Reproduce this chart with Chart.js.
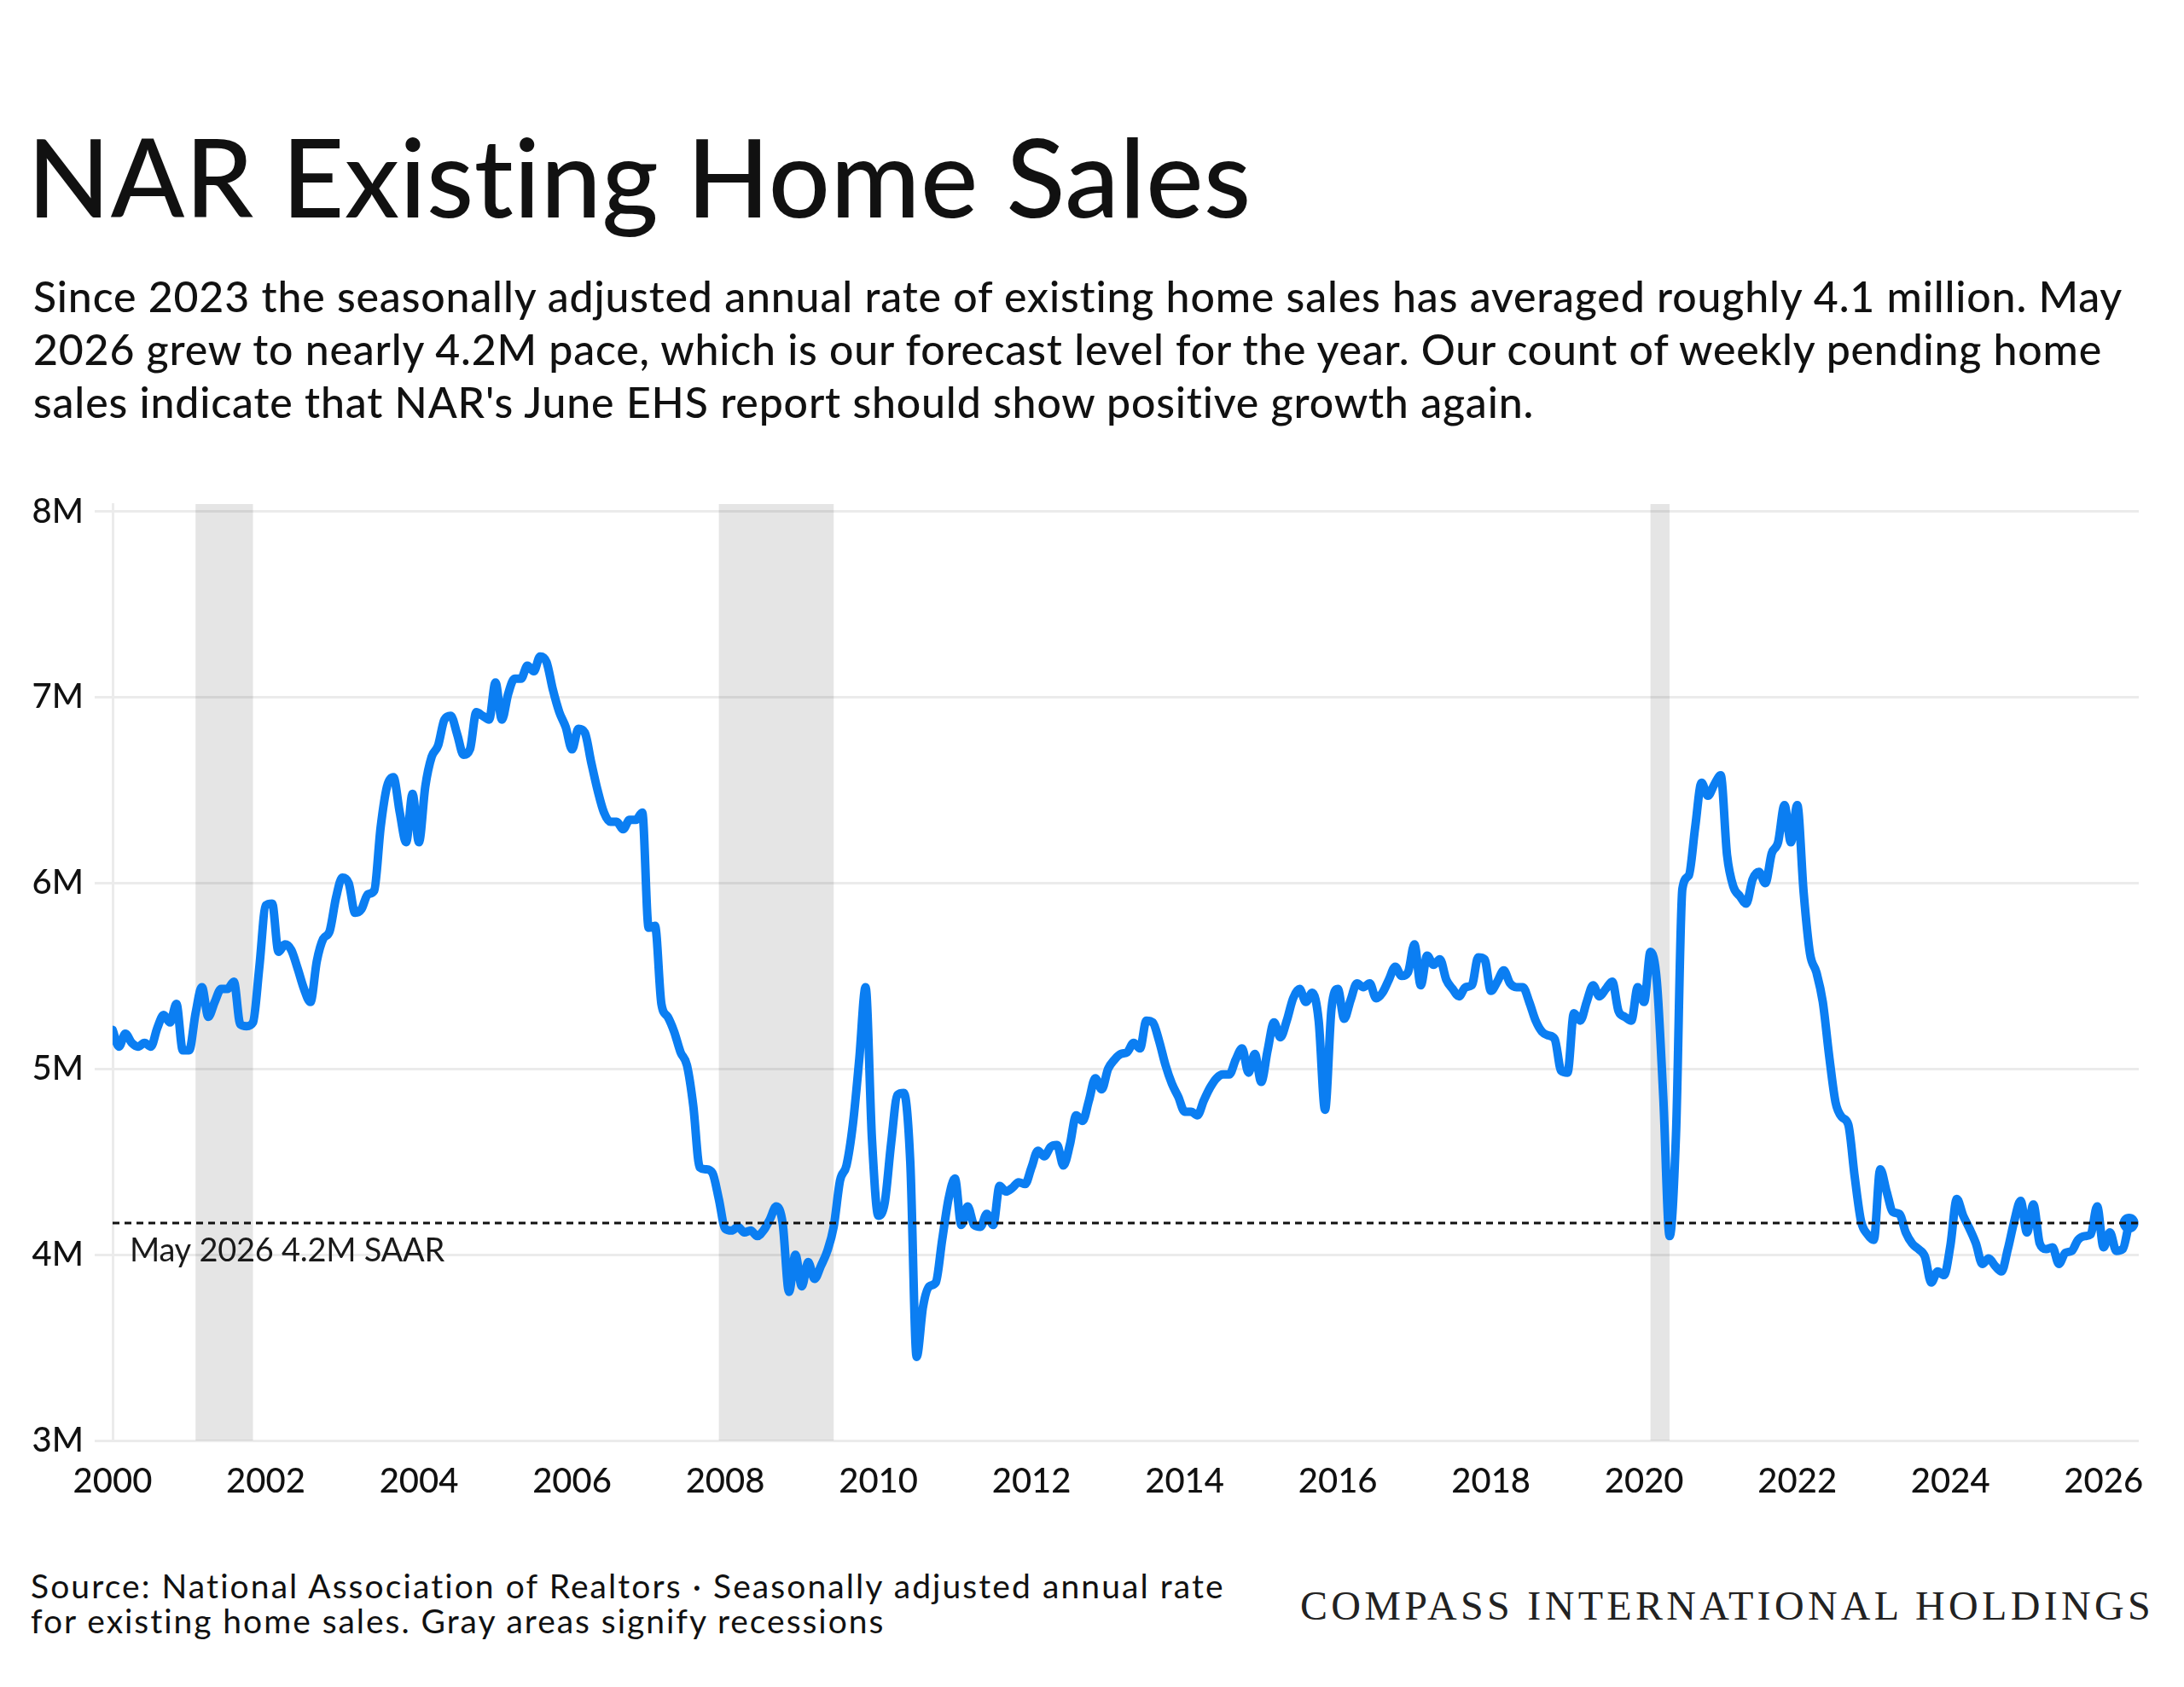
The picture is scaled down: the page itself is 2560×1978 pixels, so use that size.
<!DOCTYPE html>
<html>
<head>
<meta charset="utf-8">
<title>NAR Existing Home Sales</title>
<script src="https://cdn.jsdelivr.net/npm/chart.js@4.4.1/dist/chart.umd.min.js"></script>
<style>
  html, body { margin: 0; padding: 0; background: #fff; }
  body { width: 2560px; height: 1978px; position: relative; overflow: hidden;
         font-family: Lato, "Noto Sans", sans-serif; color: #111; }
  .txt { position: absolute; white-space: nowrap; line-height: 1; }
  #title { left: 32px; top: 143px; font-size: 127px; font-weight: 500; }
  .sub { left: 39px; font-size: 50px; font-weight: 500; }
  .foot { left: 36px; font-size: 39px; font-weight: 400; }
  #brand { left: 1524px; top: 1859px; font-size: 48px; font-family: "Liberation Serif", "DejaVu Serif", serif; color: #222; }
  #chart { position: absolute; left: 0; top: 0; }
</style>
</head>
<body>
<div id="title" class="txt" data-w="1437">NAR Existing Home Sales</div>
<div class="txt sub" style="top:322px" data-w="2450">Since 2023 the seasonally adjusted annual rate of existing home sales has averaged roughly 4.1 million. May</div>
<div class="txt sub" style="top:384px" data-w="2425">2026 grew to nearly 4.2M pace, which is our forecast level for the year. Our count of weekly pending home</div>
<div class="txt sub" style="top:446px" data-w="1760">sales indicate that NAR's June EHS report should show positive growth again.</div>
<div class="txt foot" style="top:1840px" data-w="1401">Source: National Association of Realtors · Seasonally adjusted annual rate</div>
<div class="txt foot" style="top:1881px" data-w="1002">for existing home sales. Gray areas signify recessions</div>
<div id="brand" class="txt" data-w="1001">COMPASS INTERNATIONAL HOLDINGS</div>
<canvas id="chart" width="2560" height="1978"></canvas>
<script>
// monthly SAAR, millions, Jan 2000 .. May 2026
const startYear = 2000;
const sales = [
  5.21, 5.12, 5.19, 5.14, 5.12, 5.14, 5.12, 5.22, 5.29, 5.25, 5.35, 5.10, // 2000
  5.10, 5.30, 5.44, 5.28, 5.36, 5.43, 5.43, 5.47, 5.24, 5.23, 5.25, 5.55, // 2001
  5.88, 5.89, 5.63, 5.67, 5.64, 5.54, 5.43, 5.36, 5.58, 5.70, 5.74, 5.92, // 2002
  6.03, 6.00, 5.84, 5.86, 5.94, 5.96, 6.30, 6.52, 6.57, 6.38, 6.22, 6.48, // 2003
  6.22, 6.52, 6.68, 6.74, 6.88, 6.90, 6.80, 6.69, 6.72, 6.92, 6.90, 6.88, // 2004
  7.08, 6.88, 7.02, 7.10, 7.10, 7.17, 7.14, 7.22, 7.19, 7.04, 6.92, 6.84, // 2005
  6.72, 6.83, 6.81, 6.65, 6.50, 6.38, 6.33, 6.33, 6.29, 6.34, 6.34, 6.38, // 2006
  5.76, 5.77, 5.35, 5.28, 5.20, 5.09, 5.02, 4.80, 4.47, 4.46, 4.44, 4.30, // 2007
  4.14, 4.13, 4.15, 4.12, 4.13, 4.10, 4.13, 4.19, 4.26, 4.17, 3.80, 4.00, // 2008
  3.83, 3.96, 3.87, 3.94, 4.02, 4.15, 4.40, 4.48, 4.70, 5.05, 5.44, 4.62, // 2009
  4.21, 4.28, 4.60, 4.86, 4.87, 4.50, 3.45, 3.72, 3.83, 3.85, 4.08, 4.30, // 2010
  4.41, 4.16, 4.26, 4.16, 4.15, 4.22, 4.16, 4.37, 4.34, 4.36, 4.39, 4.38, // 2011
  4.47, 4.56, 4.53, 4.58, 4.59, 4.48, 4.59, 4.75, 4.72, 4.83, 4.95, 4.89, // 2012
  5.00, 5.05, 5.08, 5.09, 5.14, 5.11, 5.26, 5.25, 5.15, 5.02, 4.92, 4.85, // 2013
  4.77, 4.77, 4.75, 4.83, 4.90, 4.95, 4.97, 4.97, 5.05, 5.11, 4.98, 5.08, // 2014
  4.93, 5.10, 5.25, 5.17, 5.26, 5.38, 5.43, 5.36, 5.41, 5.26, 4.78, 5.32, // 2015
  5.43, 5.27, 5.37, 5.46, 5.44, 5.46, 5.38, 5.41, 5.48, 5.55, 5.50, 5.52, // 2016
  5.67, 5.45, 5.61, 5.56, 5.59, 5.48, 5.43, 5.39, 5.44, 5.45, 5.60, 5.59, // 2017
  5.42, 5.47, 5.53, 5.46, 5.44, 5.44, 5.36, 5.26, 5.20, 5.18, 5.16, 4.99, // 2018
  4.98, 5.30, 5.26, 5.36, 5.45, 5.39, 5.43, 5.47, 5.31, 5.28, 5.26, 5.44, // 2019
  5.36, 5.63, 5.47, 4.85, 4.10, 4.65, 5.97, 6.04, 6.30, 6.54, 6.47, 6.53, // 2020
  6.58, 6.15, 5.98, 5.93, 5.89, 6.02, 6.06, 6.00, 6.16, 6.22, 6.42, 6.22, // 2021
  6.42, 5.95, 5.62, 5.52, 5.36, 5.07, 4.82, 4.74, 4.70, 4.42, 4.18, 4.11, // 2022
  4.08, 4.46, 4.34, 4.23, 4.22, 4.12, 4.06, 4.03, 3.99, 3.85, 3.91, 3.89, // 2023
  4.05, 4.30, 4.21, 4.14, 4.06, 3.95, 3.98, 3.94, 3.91, 4.03, 4.18, 4.29, // 2024
  4.12, 4.27, 4.06, 4.03, 4.04, 3.95, 4.01, 4.02, 4.08, 4.10, 4.11, 4.26, // 2025
  4.04, 4.12, 4.02, 4.03, 4.17                                              // 2026
];
// recession bands as [start, end] in decimal years
const recessions = [[2001.083, 2001.833], [2007.917, 2009.417], [2020.083, 2020.333]];
const refValue = 4.17;
const refLabel = 'May 2026 4.2M SAAR';
const xTicks = [2000, 2002, 2004, 2006, 2008, 2010, 2012, 2014, 2016, 2018, 2020, 2022, 2024, 2026];
const yTicks = [3, 4, 5, 6, 7, 8];
const xMin = 2000, xMax = 2026.46;

const blue = '#0b7ef2';
const grid = '#ebebeb';

document.querySelectorAll('[data-w]').forEach(el => {
  const w = el.getBoundingClientRect().width;
  const n = el.textContent.length;
  el.style.letterSpacing = ((+el.dataset.w - w) / n) + 'px';
});

const recessionBands = {
  id: 'recessionBands',
  beforeDatasetsDraw(chart) {
    const { ctx, chartArea, scales: { x } } = chart;
    ctx.save();
    ctx.fillStyle = 'rgba(0,0,0,0.1)';
    recessions.forEach(([s, e]) => {
      const x0 = x.getPixelForValue(s);
      const x1 = x.getPixelForValue(e);
      ctx.fillRect(x0, chartArea.top, x1 - x0, chartArea.bottom - chartArea.top);
    });
    ctx.restore();
  }
};

const refText = {
  id: 'refText',
  afterDatasetsDraw(chart) {
    const { ctx, scales: { x, y } } = chart;
    ctx.save();
    ctx.font = '400 38px Lato, "Noto Sans", sans-serif';
    ctx.fillStyle = '#1a1a1a';
    ctx.textBaseline = 'middle';
    const w = ctx.measureText(refLabel).width;
    ctx.letterSpacing = ((369 - w) / refLabel.length) + 'px';
    ctx.fillText(refLabel, x.getPixelForValue(xMin) + 20, y.getPixelForValue(refValue) + 33);
    ctx.restore();
  }
};

Chart.defaults.font.family = 'Lato, "Noto Sans", sans-serif';

new Chart(document.getElementById('chart'), {
  type: 'line',
  data: {
    datasets: [
      {
        label: 'ref',
        data: [{ x: xMin, y: refValue }, { x: xMax, y: refValue }],
        borderColor: '#111',
        borderWidth: 3,
        borderDash: [8, 6],
        pointRadius: 0,
        order: 0
      },
      {
        label: 'Existing home sales',
        data: sales.map((v, i) => ({ x: startYear + i / 12, y: v })),
        borderColor: blue,
        backgroundColor: blue,
        borderWidth: 10,
        borderCapStyle: 'round',
        borderJoinStyle: 'round',
        cubicInterpolationMode: 'monotone',
        pointRadius: ctx => ctx.dataIndex === sales.length - 1 ? 11 : 0,
        pointBorderWidth: 0,
        pointBackgroundColor: blue,
        order: 1
      }
    ]
  },
  options: {
    responsive: false,
    animation: false,
    devicePixelRatio: 1,
    layout: { padding: { left: 0, right: 53, top: 591, bottom: 209 } },
    plugins: { legend: { display: false }, tooltip: { enabled: false } },
    scales: {
      x: {
        type: 'linear',
        min: xMin,
        max: xMax,
        afterBuildTicks: s => { s.ticks = xTicks.map(v => ({ value: v })); },
        afterFit: s => { s.height = 80; },
        grid: { display: false, drawTicks: false },
        border: { display: false },
        ticks: {
          autoSkip: false, maxRotation: 0, padding: 24, color: '#111',
          font: { size: 40, weight: '500' },
          callback: v => String(v)
        }
      },
      y: {
        min: 3,
        max: 8.04,
        afterBuildTicks: s => { s.ticks = yTicks.map(v => ({ value: v })); },
        afterFit: s => { s.width = 132; },
        grid: { color: grid, lineWidth: 3, tickLength: 21 },
        border: { display: true, color: grid, width: 3 },
        ticks: {
          padding: 13, color: '#111',
          font: { size: 40, weight: '500' },
          callback: v => v + 'M'
        }
      }
    }
  },
  plugins: [recessionBands, refText]
});
</script>
</body>
</html>
